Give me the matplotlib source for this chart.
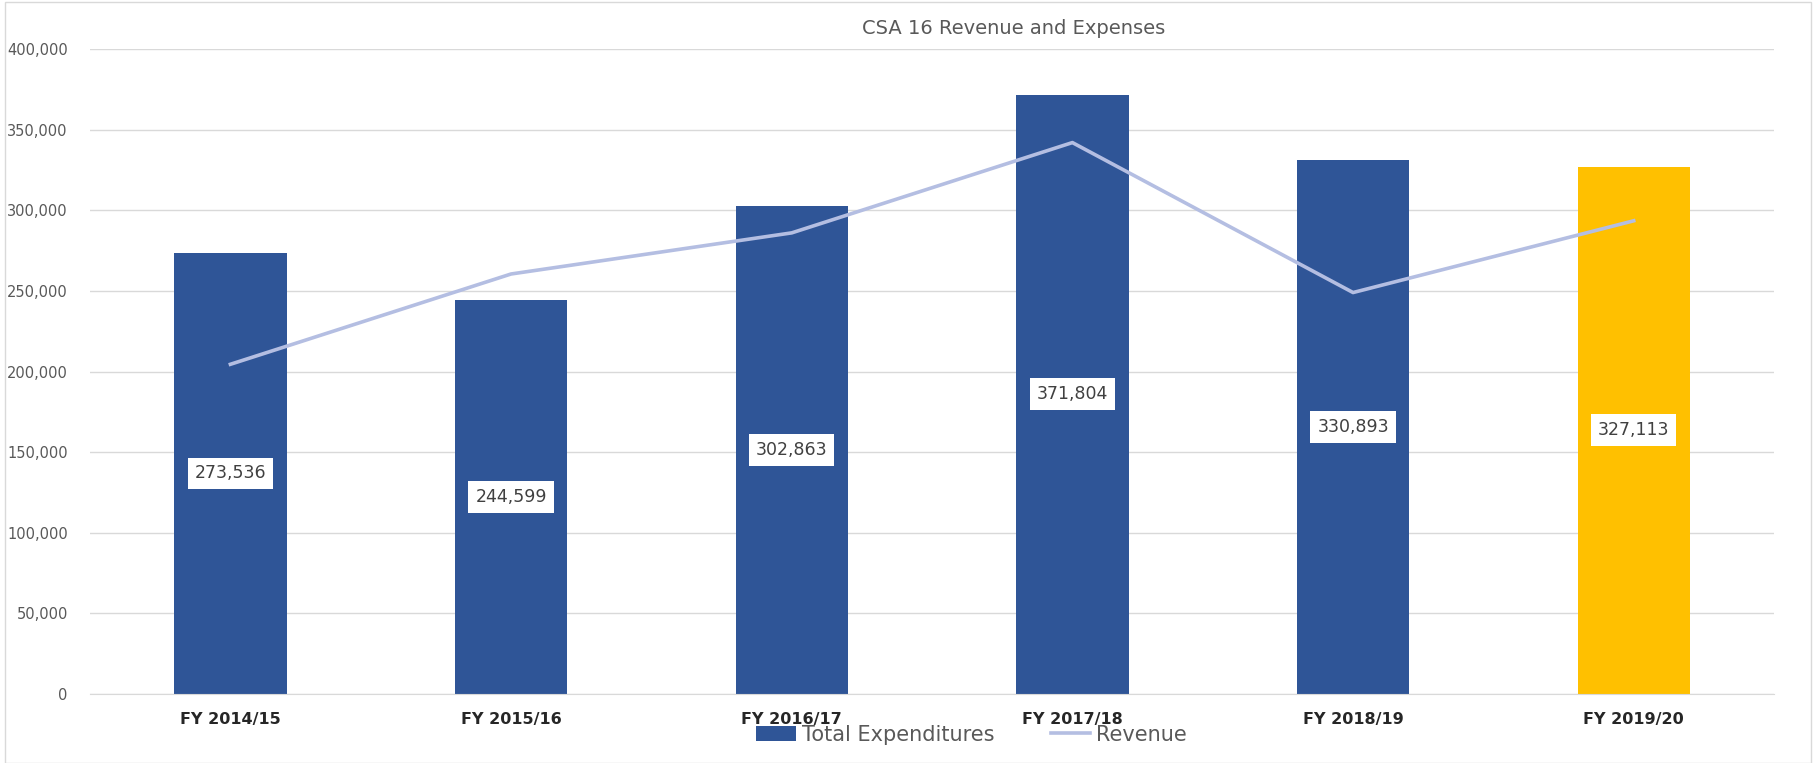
import matplotlib.pyplot as plt
from matplotlib.patches import Rectangle

# data
years = ["FY 2014/15", "FY 2015/16", "FY 2016/17", "FY 2017/18", "FY 2018/19", "FY 2019/20"]
expenditures = [273536, 244599, 302863, 371804, 330893, 327113]
revenue = [204500, 260500, 286000, 342000, 249000, 293500]
bar_colors = ["#2F5597", "#2F5597", "#2F5597", "#2F5597", "#2F5597", "#FFC000"]

fig = plt.figure(figsize=(18.16, 7.63), dpi=100)
ax = fig.add_axes([0.0496, 0.0904, 0.9273, 0.8453])

x = range(len(years))
bars = ax.bar(x, expenditures, width=0.40, color=bar_colors, zorder=2,
              label="Total Expenditures")
line, = ax.plot(x, revenue, color="#B4BEE2", lw=2.6, zorder=3, label="Revenue")

# value labels in the middle of each bar
for i, v in enumerate(expenditures):
    ax.text(i, v / 2, f"{v:,}", ha="center", va="center", fontsize=12.5,
            color="#404040", zorder=4,
            bbox=dict(facecolor="white", edgecolor="none", pad=5))

ax.set_xlim(-0.5, 5.5)
ax.set_ylim(0, 400000)
ax.set_yticks(range(0, 400001, 50000))
ax.set_yticklabels([f"{t:,}" for t in range(0, 400001, 50000)])
ax.set_xticks(list(x))
ax.set_xticklabels(years, fontweight="bold", fontsize=11.5, color="#262626")
ax.tick_params(axis="y", length=0, pad=16, labelsize=10.5, labelcolor="#595959")
ax.tick_params(axis="x", length=0, pad=13)
ax.grid(axis="y", color="#D9D9D9", lw=1, zorder=0)
for s in ["top", "right", "left"]:
    ax.spines[s].set_visible(False)
ax.spines["bottom"].set_color("#D9D9D9")

fig.text(0.558, 0.962, "CSA 16 Revenue and Expenses", ha="center", va="center",
         fontsize=14, color="#595959")

fig.legend([bars, line], ["Total Expenditures", "Revenue"], loc="center",
           bbox_to_anchor=(0.535, 0.037), ncol=2, frameon=False,
           fontsize=15, labelcolor="#595959", handlelength=1.9,
           handletextpad=0.3, columnspacing=2.7)

# thin outer frame
fig.patches.append(Rectangle((0.003, 0.0), 0.994, 0.997, transform=fig.transFigure,
                             fill=False, edgecolor="#D9D9D9", lw=1))

fig.savefig("out.png", dpi=100)
